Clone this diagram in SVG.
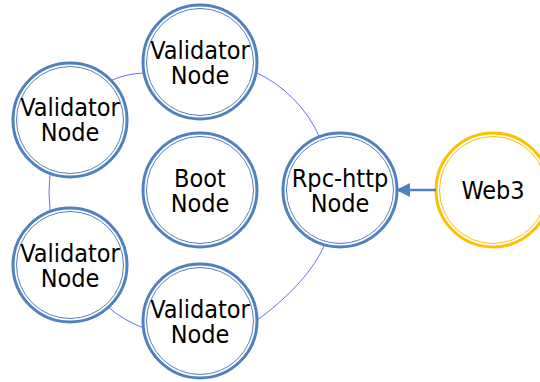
<svg xmlns="http://www.w3.org/2000/svg" width="540" height="382" viewBox="0 0 540 382">
  <style>
    .ring { fill: none; stroke: #6b6bff; stroke-width: 1; }
    .outer { fill: #ffffff; stroke: #4f81bd; stroke-width: 3; }
    .inner { fill: none; stroke: #4f81bd; stroke-width: 1; }
    .web .outer, .web .inner { stroke: #ffc000; }
    text { font-family: "DejaVu Sans Condensed", "DejaVu Sans", Verdana, sans-serif; font-stretch: condensed; font-size: 25px; fill: #000000; text-anchor: middle; }
  </style>
  <defs>
    <!-- filled triangular head, tip at the end of the path -->
    <marker id="arrow" viewBox="0 0 14 14" refX="14" refY="7" markerWidth="14" markerHeight="14" markerUnits="userSpaceOnUse" orient="auto">
      <path d="M0,0 L14,7 L0,14 Z" fill="#4f81bd"/>
    </marker>
  </defs>

  <!-- links between nodes -->
  <g id="connectors">
    <path class="ring" d="M108,82 Q126,73 146,73"/>
    <path class="ring" d="M255,72 A130 130 0 0 1 320,138"/>
    <path class="ring" d="M50,174 Q48,192 50,210"/>
    <path class="ring" d="M107,306 Q122,320 146,329"/>
    <path class="ring" d="M256,321 Q308,283 325,244"/>
  </g>

  <g id="validator-top">
    <circle class="outer" cx="200" cy="62" r="57"/>
    <circle class="inner" cx="200" cy="62" r="53.5"/>
    <text x="200" y="59">Validator</text>
    <text x="200" y="84">Node</text>
  </g>

  <g id="validator-left-upper">
    <circle class="outer" cx="70" cy="120" r="57"/>
    <circle class="inner" cx="70" cy="120" r="53.5"/>
    <text x="70" y="116">Validator</text>
    <text x="70" y="141">Node</text>
  </g>

  <g id="validator-left-lower">
    <circle class="outer" cx="70" cy="265" r="57"/>
    <circle class="inner" cx="70" cy="265" r="53.5"/>
    <text x="70" y="262">Validator</text>
    <text x="70" y="287">Node</text>
  </g>

  <g id="validator-bottom">
    <circle class="outer" cx="200" cy="321" r="57"/>
    <circle class="inner" cx="200" cy="321" r="53.5"/>
    <text x="200" y="318">Validator</text>
    <text x="200" y="343">Node</text>
  </g>

  <g id="boot">
    <circle class="outer" cx="200" cy="190" r="57"/>
    <circle class="inner" cx="200" cy="190" r="53.5"/>
    <text x="200" y="187">Boot</text>
    <text x="200" y="212">Node</text>
  </g>

  <g id="rpc-http">
    <circle class="outer" cx="340" cy="190" r="57"/>
    <circle class="inner" cx="340" cy="190" r="53.5"/>
    <text x="340" y="187">Rpc-http</text>
    <text x="340" y="212">Node</text>
  </g>

  <g id="web3" class="web">
    <circle class="outer" cx="493" cy="190" r="57"/>
    <circle class="inner" cx="493" cy="190" r="53.5"/>
    <text x="493" y="199">Web3</text>
  </g>

  <!-- request arrow, drawn over the node rims -->
  <g id="connectors-arrow">
    <line x1="436" y1="190" x2="396" y2="190" stroke="#4f81bd" stroke-width="2.5" marker-end="url(#arrow)"/>
  </g>
</svg>
